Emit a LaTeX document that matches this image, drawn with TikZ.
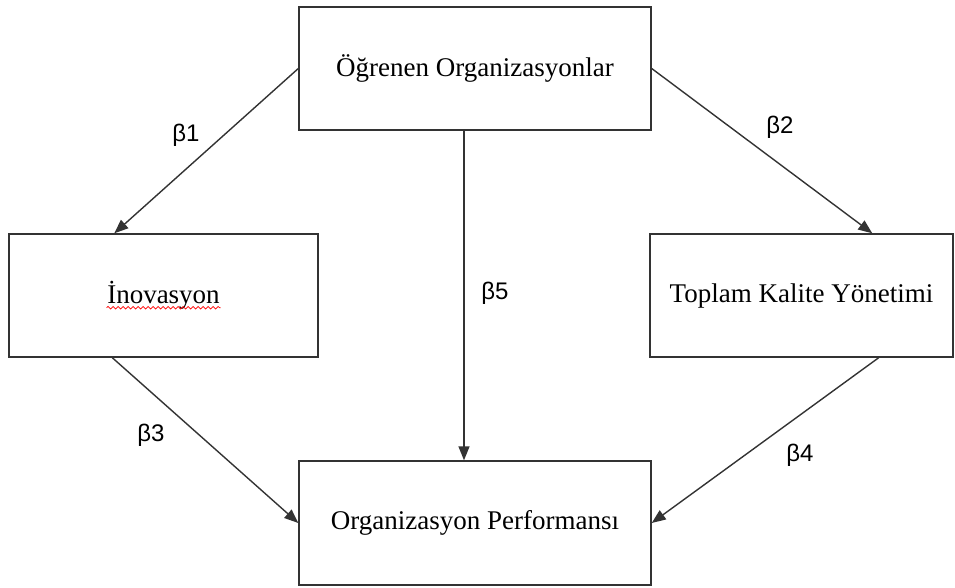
\documentclass[tikz,border=0pt]{standalone}
\usepackage{fontspec}
\setmainfont{Liberation Serif}
\newfontfamily\betafont{Liberation Sans}
\usetikzlibrary{arrows.meta,decorations.pathmorphing}

\begin{document}
\begin{tikzpicture}[x=1pt, y=-1pt,
		kutu/.style={draw=black!80, line width=1.4pt, rectangle, inner sep=0pt, minimum height=123pt, font=\fontsize{27}{30}\selectfont},
		ok/.style={draw=black!80, line width=1.4pt, -{Triangle[length=14pt,width=11pt]}},
		katsayi/.style={font=\betafont\fontsize{24}{26}\selectfont, inner sep=0pt}]
			%%%%% START %%%%%
			
			\useasboundingbox (0, 0) rectangle (955, 587);
			
			\node[kutu, minimum width=352pt] (org) at (475, 68.5) {Öğrenen Organizasyonlar};
			\node[kutu, minimum width=309pt] (ino) at (163.5, 295.5) {İnovasyon};
			\node[kutu, minimum width=303pt] (tky) at (801.5, 295.5) {Toplam Kalite Yönetimi};
			\node[kutu, minimum width=352pt, minimum height=124pt] (perf) at (475, 523) {Organizasyon Performansı};
			
			% spell-check line
			\draw[red, line width=0.7pt, decorate, decoration={snake, segment length=5pt, amplitude=1.3pt}]
				([shift={(-57pt,-4pt)}]ino.base) -- ([shift={(57pt,-4pt)}]ino.base);
			
			\draw[ok] (org.west) -- ([xshift=106pt]ino.north west);
			\draw[ok] (org.east) -- ([xshift=223pt]tky.north west);
			\draw[ok] ([xshift=-11pt]org.south) -- ([xshift=-11pt]perf.north);
			\draw[ok] ([xshift=104pt]ino.south west) -- (perf.west);
			\draw[ok] ([xshift=-75pt]tky.south east) -- (perf.east);
			
			\node[katsayi] (b1) at (186, 135) {β1};
			\node[katsayi] (b2) at (780, 127) {β2};
			\node[katsayi] (b3) at (151, 435) {β3};
			\node[katsayi] (b4) at (800, 455) {β4};
			\node[katsayi] (b5) at (495, 293) {β5};
			
			%%%%% END %%%%%
		\end{tikzpicture}
\end{document}
